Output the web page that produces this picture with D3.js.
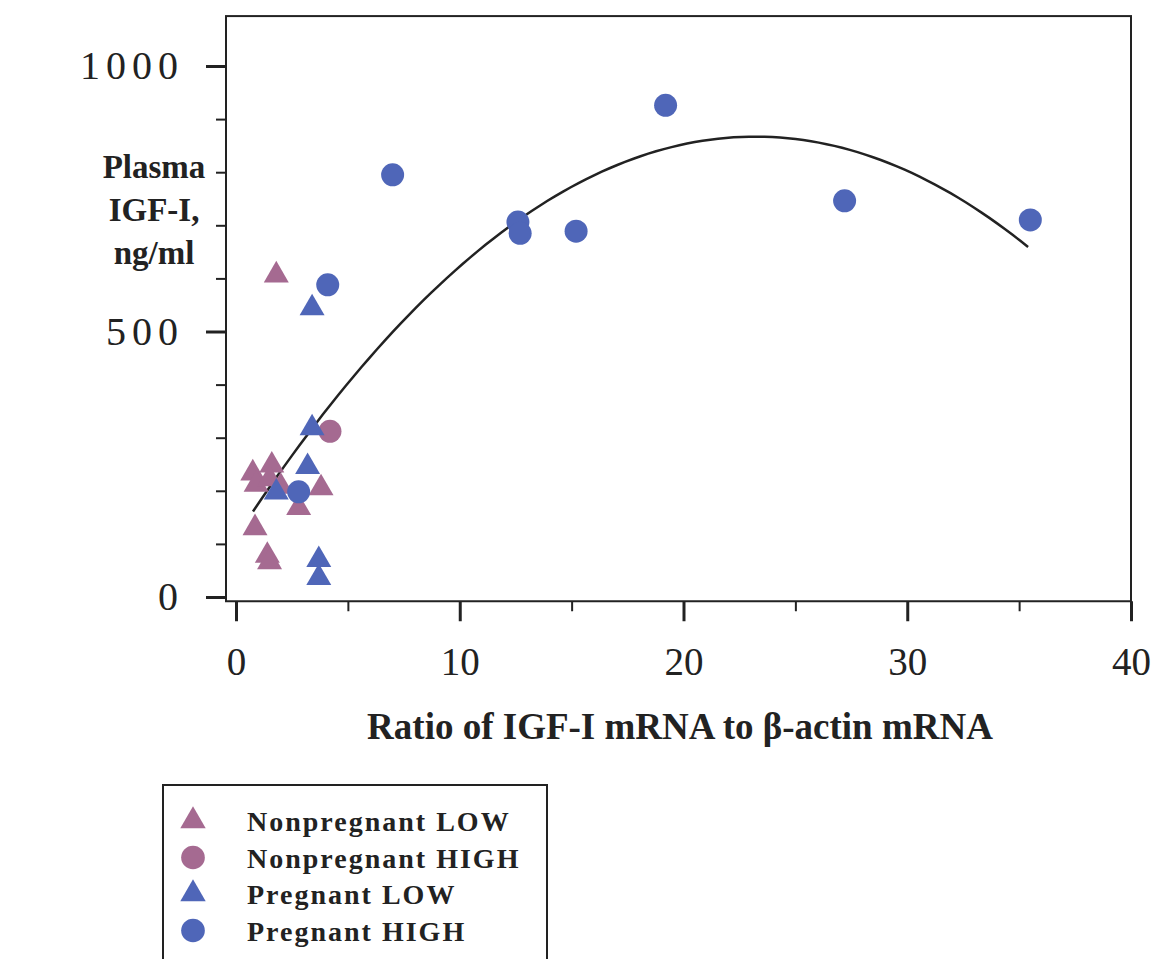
<!DOCTYPE html>
<html>
<head>
<meta charset="utf-8">
<script src="https://cdn.jsdelivr.net/npm/d3@7"></script>
<style>
body { margin: 0; background: #fff; }
text { font-family: "Liberation Serif", "Times New Roman", serif; fill: #222; }
</style>
</head>
<body>
<div id="chart-area"></div>
<script>
// data: [ratio, plasma IGF-I]
var npLow = [[1.8,606],[0.75,233],[0.9,212],[1.6,248],[1.5,222],[2.0,208],[2.8,168],[3.8,205],[0.85,130],[1.4,78],[1.5,66]];
var npHigh = [[4.2,312]];
var pLow = [[3.4,544],[3.4,318],[3.2,245],[1.8,197],[3.7,70],[3.7,36]];
var pHigh = [[7.0,795],[4.1,588],[12.6,706],[12.7,685],[15.2,689],[19.2,926],[27.2,746],[35.5,710],[2.8,198]];

// quadratic fit y = a + b*x + c*x^2, drawn over the data range
var fitCoef = [112.5, 65.0, -1.4];
var fitRange = [0.76, 35.4];

var xTicks = [0, 10, 20, 30, 40];
var xMinor = [5, 15, 25, 35];
var yTicks = [0, 500, 1000];
var yMinor = [100, 200, 300, 400, 600, 700, 800, 900];

var legendNames = ["Nonpregnant LOW", "Nonpregnant HIGH", "Pregnant LOW", "Pregnant HIGH"];
var pink = "#a56a91";
var blue = "#4f66b8";

var svg = d3.select("#chart-area")
			.append("svg")
			.attr("width", 1153)
			.attr("height", 959);

var x = d3.scaleLinear().domain([0, 40]).range([236, 1131]);
var y = d3.scaleLinear().domain([0, 1000]).range([597, 66]);

// frame
svg.append("rect")
	.attr("x", x(0) - 10)
	.attr("y", y(1094))
	.attr("width", x(40) - x(0) + 10)
	.attr("height", y(-8) - y(1094))
	.attr("fill", "none")
	.attr("stroke", "#222")
	.attr("stroke-width", 2);

// x axis
var xAxisG = svg.append("g")
	.attr("transform", "translate(0," + y(-8) + ")")
	.call(d3.axisBottom(x).tickValues(xTicks).tickSize(20).tickPadding(26));
xAxisG.select(".domain").remove();
xAxisG.selectAll(".tick line").attr("stroke", "#222").attr("stroke-width", 3);
xAxisG.selectAll("text")
	.style("font-size", "39px")
	.attr("fill", "#222");

var xMinorG = svg.append("g")
	.attr("transform", "translate(0," + y(-8) + ")")
	.call(d3.axisBottom(x).tickValues(xMinor).tickSize(10).tickFormat(""));
xMinorG.select(".domain").remove();
xMinorG.selectAll(".tick line").attr("stroke", "#222").attr("stroke-width", 2);

// y axis
var yAxisG = svg.append("g")
	.attr("transform", "translate(" + (x(0) - 10) + ",0)")
	.call(d3.axisLeft(y).tickValues(yTicks).tickFormat(d3.format("d")).tickSize(20).tickPadding(22));
yAxisG.select(".domain").remove();
yAxisG.selectAll(".tick line").attr("stroke", "#222").attr("stroke-width", 3);
yAxisG.selectAll("text")
	.style("font-size", "40px")
	.style("letter-spacing", "6px")
	.attr("fill", "#222");

var yMinorG = svg.append("g")
	.attr("transform", "translate(" + (x(0) - 10) + ",0)")
	.call(d3.axisLeft(y).tickValues(yMinor).tickSize(10).tickFormat(""));
yMinorG.select(".domain").remove();
yMinorG.selectAll(".tick line").attr("stroke", "#222").attr("stroke-width", 2);

// fit curve
var curvePts = d3.range(0, 101).map(function(i){
	var v = fitRange[0] + (fitRange[1] - fitRange[0]) * i / 100;
	return [v, fitCoef[0] + fitCoef[1] * v + fitCoef[2] * v * v];
});
svg.append("path")
	.datum(curvePts)
	.attr("fill", "none")
	.attr("stroke", "#222")
	.attr("stroke-width", 2.5)
	.attr("d", d3.line()
		.x(function(d){ return x(d[0]); })
		.y(function(d){ return y(d[1]); }));

var triangle = d3.symbol().type(d3.symbolTriangle).size(270);

function drawTriangles(data, color){
	svg.append("g").selectAll("path")
		.data(data)
		.enter()
		.append("path")
		.attr("d", triangle)
		.attr("transform", function(d){
			return "translate(" + x(d[0]) + "," + y(d[1]) + ")";
		})
		.attr("fill", color);
}
function drawCircles(data, color){
	svg.append("g").selectAll("circle")
		.data(data)
		.enter()
		.append("circle")
		.attr("cx", function(d){ return x(d[0]); })
		.attr("cy", function(d){ return y(d[1]); })
		.attr("r", 11.5)
		.attr("fill", color);
}

drawTriangles(npLow, pink);
drawCircles(npHigh, pink);
drawTriangles(pLow, blue);
drawCircles(pHigh, blue);

// axis titles
var yTitle = ["Plasma", "IGF-I,", "ng/ml"];
svg.append("g").selectAll("text")
	.data(yTitle)
	.enter()
	.append("text")
	.attr("x", 154)
	.attr("y", function(d, i){ return 178 + i * 43; })
	.attr("text-anchor", "middle")
	.style("font-size", "33px")
	.style("font-weight", "bold")
	.text(function(d){ return d; });

svg.append("text")
	.attr("x", 680)
	.attr("y", 739)
	.attr("text-anchor", "middle")
	.style("font-size", "37px")
	.style("font-weight", "bold")
	.text("Ratio of IGF-I mRNA to \u03b2-actin mRNA");

// legend
svg.append("rect")
	.attr("x", 163)
	.attr("y", 785)
	.attr("width", 384)
	.attr("height", 200)
	.attr("fill", "none")
	.attr("stroke", "#222")
	.attr("stroke-width", 2);

var legendColors = [pink, pink, blue, blue];
var legendShapes = [d3.symbolTriangle, d3.symbolCircle, d3.symbolTriangle, d3.symbolCircle];
var rows = svg.append("g").selectAll("g")
	.data(legendNames)
	.enter()
	.append("g")
	.attr("transform", function(d, i){ return "translate(193," + (821 + i * 36.5) + ")"; });

rows.append("path")
	.attr("d", function(d, i){
		return d3.symbol().type(legendShapes[i]).size(legendShapes[i] == d3.symbolCircle ? 440 : 280)();
	})
	.attr("fill", function(d, i){ return legendColors[i]; });

rows.append("text")
	.attr("x", 54)
	.attr("y", 10)
	.style("font-size", "28px")
	.style("font-weight", "bold")
	.style("letter-spacing", "2px")
	.text(function(d){ return d; });
</script>
</body>
</html>
